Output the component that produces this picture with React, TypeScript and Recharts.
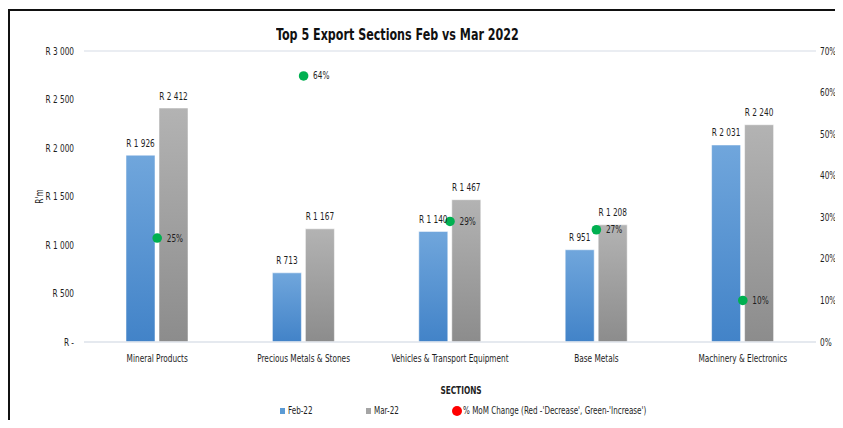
import React from "react";
import {
  ComposedChart,
  Bar,
  Line,
  XAxis,
  YAxis,
  CartesianGrid,
  LabelList,
} from "recharts";

const categories = [
  "Mineral Products",
  "Precious Metals & Stones",
  "Vehicles & Transport Equipment",
  "Base Metals",
  "Machinery & Electronics",
];
const feb22 = [1926, 713, 1140, 951, 2031];
const mar22 = [2412, 1167, 1467, 1208, 2240];
const momPct = [25, 64, 29, 27, 10];
const leftTicks = [0, 500, 1000, 1500, 2000, 2500, 3000];
const rightTicks = [0, 10, 20, 30, 40, 50, 60, 70];

const FONT = "'DejaVu Sans Condensed', 'Liberation Sans Narrow', sans-serif";
const GRID = "#e3e7ee";
const TXT = "#1e1e1e";
// squeeze horizontally so the condensed font sits closer to the narrow original
const SX = 0.82;
const W = 827;

// "R 1 926" style rand formatting
function rand(v: number): string {
  if (v === 0) return "R -";
  if (v < 1000) return `R ${v}`;
  return `R ${Math.floor(v / 1000)} ${String(v % 1000).padStart(3, "0")}`;
}

function NText({
  x,
  y,
  anchor = "middle",
  size = 10,
  weight = 400,
  rotate = 0,
  dy = "0.35em",
  children,
}: any) {
  const rot = rotate ? ` rotate(${rotate})` : "";
  return (
    <text
      transform={`translate(${x},${y})${rot} scale(${SX},1)`}
      textAnchor={anchor}
      dy={dy}
      fontSize={size}
      fontWeight={weight}
      fontFamily={FONT}
      fill={TXT}
    >
      {children}
    </text>
  );
}

function GreenDot(props: any) {
  const { cx, cy } = props;
  if (cx == null || cy == null) return null;
  return <circle cx={cx} cy={cy} r={4.8} fill="#00b050" />;
}

function barLabel(props: any) {
  const { x, y, width, value } = props;
  return (
    <NText x={Number(x) + Number(width) / 2} y={Number(y) - 12} size={10}>
      {rand(Number(value))}
    </NText>
  );
}

function pctLabel(props: any) {
  const { x, y, value } = props;
  return (
    <NText x={Number(x) + 9.5} y={Number(y)} anchor="start" size={10}>
      {`${value}%`}
    </NText>
  );
}

export default function App() {
  const data = categories.map((name, i) => ({
    name,
    feb: feb22[i],
    mar: mar22[i],
    pct: momPct[i],
  }));

  const legendText: React.CSSProperties = {
    position: "absolute",
    top: 0,
    lineHeight: "14px",
    whiteSpace: "nowrap",
    transform: `scaleX(${SX - 0.02})`,
    transformOrigin: "left center",
  };

  return (
    <div
      style={{
        position: "relative",
        width: W,
        height: 412,
        background: "#fff",
        fontFamily: FONT,
      }}
    >
      <style>{"html,body{overflow:hidden}"}</style>
      {/* frame lines */}
      <div style={{ position: "absolute", left: 0, top: 1, width: W, height: 2, background: "#111" }} />
      <div style={{ position: "absolute", left: 0, top: 1, width: 2, height: 411, background: "#111" }} />

      <div
        style={{
          position: "absolute",
          left: 268,
          top: 17,
          whiteSpace: "nowrap",
          fontSize: 16.5,
          fontWeight: 700,
          color: "#111",
          lineHeight: "20px",
          transform: "scaleX(0.75)",
          transformOrigin: "left center",
        }}
      >
        Top 5 Export Sections Feb vs Mar 2022
      </div>

      <ComposedChart
        width={W}
        height={412}
        data={data}
        margin={{ top: 43, right: 0, left: 0, bottom: 28 }}
        style={{ position: "absolute", left: 0, top: 0 }}
      >
        <defs>
          <linearGradient id="blueGrad" x1="0" y1="0" x2="0" y2="1">
            <stop offset="0%" stopColor="#70a6dc" />
            <stop offset="100%" stopColor="#4283c8" />
          </linearGradient>
          <linearGradient id="grayGrad" x1="0" y1="0" x2="0" y2="1">
            <stop offset="0%" stopColor="#b3b3b3" />
            <stop offset="100%" stopColor="#8c8c8c" />
          </linearGradient>
        </defs>
        <CartesianGrid vertical={false} stroke={GRID} strokeWidth={1.5} />
        <XAxis
          dataKey="name"
          height={50}
          interval={0}
          tickLine={false}
          axisLine={{ stroke: GRID, strokeWidth: 1.5 }}
          tickMargin={7}
          tick={(p: any) => (
            <NText x={p.x} y={p.y} dy="0.71em" size={10}>
              {p.payload.value}
            </NText>
          )}
          label={{
            position: "insideBottom",
            content: (p: any) => {
              const vb = p.viewBox;
              return (
                <NText x={vb.x + vb.width / 2 + 11} y={vb.y + vb.height - 2} size={10} weight={600}>
                  SECTIONS
                </NText>
              );
            },
          }}
        />
        <YAxis
          yAxisId="left"
          width={76}
          domain={[0, 3000]}
          ticks={leftTicks}
          axisLine={false}
          tickLine={false}
          tickMargin={4}
          tick={(p: any) => (
            <NText x={p.x} y={p.y} anchor="end" size={10}>
              {rand(p.payload.value)}
            </NText>
          )}
          label={{
            position: "insideLeft",
            content: (p: any) => {
              const vb = p.viewBox;
              return (
                <NText x={31} y={vb.y + vb.height / 2} rotate={-90} size={10}>
                  R'm
                </NText>
              );
            },
          }}
        />
        <YAxis
          yAxisId="right"
          orientation="right"
          width={19}
          domain={[0, 70]}
          ticks={rightTicks}
          axisLine={false}
          tickLine={false}
          tickMargin={-2}
          tick={(p: any) => (
            <NText x={p.x} y={p.y} anchor="start" size={10}>
              {`${p.payload.value}%`}
            </NText>
          )}
        />
        <Bar
          yAxisId="left"
          dataKey="feb"
          fill="url(#blueGrad)"
          stroke="#ffffff"
          strokeOpacity={0.5}
          barSize={29}
          isAnimationActive={false}
        >
          <LabelList dataKey="feb" content={barLabel} />
        </Bar>
        <Bar
          yAxisId="left"
          dataKey="mar"
          fill="url(#grayGrad)"
          stroke="#ffffff"
          strokeOpacity={0.5}
          barSize={29}
          isAnimationActive={false}
        >
          <LabelList dataKey="mar" content={barLabel} />
        </Bar>
        <Line
          yAxisId="right"
          dataKey="pct"
          stroke="none"
          dot={<GreenDot />}
          activeDot={false}
          isAnimationActive={false}
        >
          <LabelList dataKey="pct" content={pctLabel} />
        </Line>
      </ComposedChart>

      {/* legend */}
      <div style={{ position: "absolute", top: 396, left: 0, width: W, height: 14, fontSize: 10, color: TXT }}>
        <span style={{ position: "absolute", left: 272, top: 4, width: 5, height: 6, background: "#5b9bd5" }} />
        <span style={{ ...legendText, left: 280 }}>Feb-22</span>
        <span style={{ position: "absolute", left: 358, top: 4, width: 5, height: 6, background: "#a5a5a5" }} />
        <span style={{ ...legendText, left: 366 }}>Mar-22</span>
        <span
          style={{
            position: "absolute",
            left: 444,
            top: 2,
            width: 10,
            height: 10,
            borderRadius: "50%",
            background: "#ff0000",
          }}
        />
        <span style={{ ...legendText, left: 455 }}>
          % MoM Change (Red -'Decrease', Green-'Increase')
        </span>
      </div>
    </div>
  );
}
